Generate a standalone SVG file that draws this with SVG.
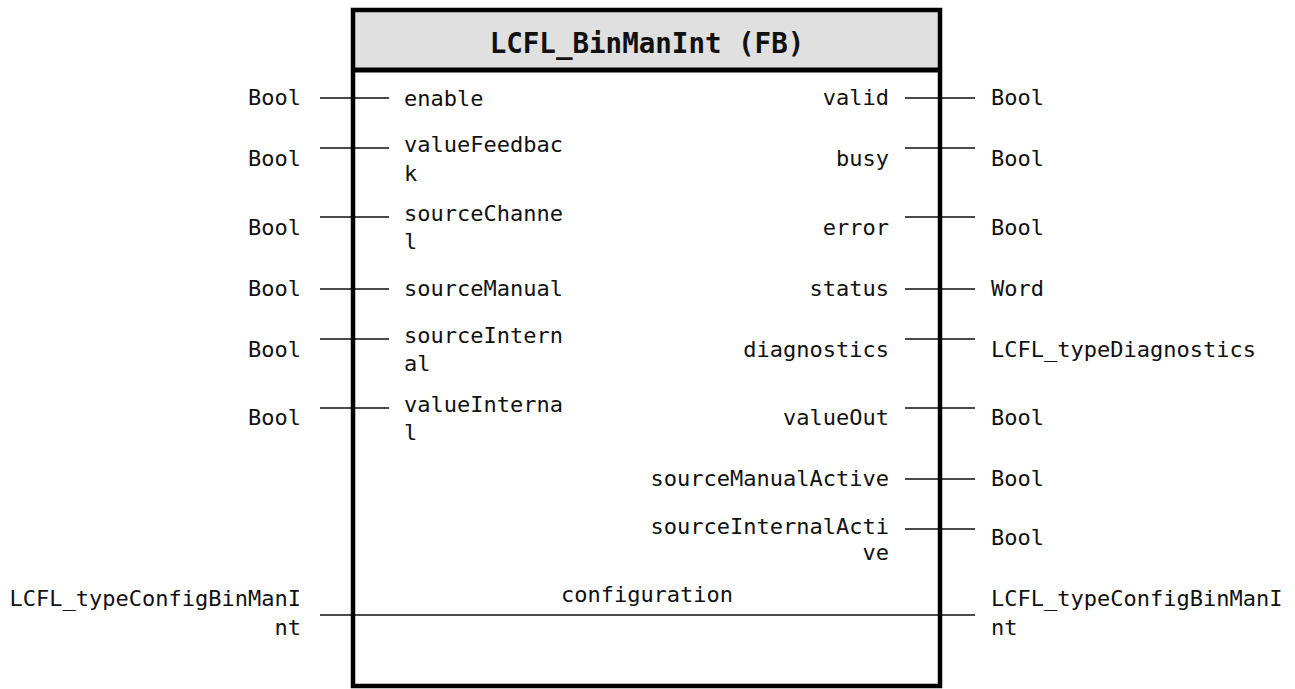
<svg xmlns="http://www.w3.org/2000/svg" width="1295" height="689" viewBox="0 0 1295 689">
<style>
text{font-family:"DejaVu Sans Mono","Liberation Mono",monospace;font-size:22px;fill:#111}
.t{font-weight:bold;font-size:27.5px;text-anchor:middle}
.e{text-anchor:end}
.m{text-anchor:middle}
.pin{stroke:#111;stroke-width:1.6;fill:none}
</style>
<rect x="0" y="0" width="1295" height="689" fill="#fff"/>
<g id="connectors">
<path class="pin" d="M320 98H389M320 148H389M320 217H389M320 289H389M320 339H389M320 408H389"/>
<path class="pin" d="M905 98H975M905 148H975M905 217H975M905 289H975M905 339H975M905 408H975M905 479H975M905 529H975"/>
<path class="pin" d="M320 615H975"/>
</g>
<g id="fb">
<rect x="353" y="10" width="587" height="60" fill="#e0e0e0"/>
<rect x="353" y="10" width="587" height="676" fill="none" stroke="#000" stroke-width="4.5"/>
<line x1="353" y1="70" x2="940" y2="70" stroke="#000" stroke-width="5"/>
<text class="t" x="647" y="53">LCFL_BinManInt (FB)</text>
</g>
<g id="inputs">
<text x="404" y="106">enable</text>
<text x="404" y="152">valueFeedbac</text><text x="404" y="181">k</text>
<text x="404" y="221">sourceChanne</text><text x="404" y="249">l</text>
<text x="404" y="296">sourceManual</text>
<text x="404" y="343">sourceIntern</text><text x="404" y="371">al</text>
<text x="404" y="412">valueInterna</text><text x="404" y="440">l</text>
<text class="e" x="301" y="105">Bool</text>
<text class="e" x="301" y="166">Bool</text>
<text class="e" x="301" y="235">Bool</text>
<text class="e" x="301" y="296">Bool</text>
<text class="e" x="301" y="357">Bool</text>
<text class="e" x="301" y="425">Bool</text>
</g>
<g id="outputs">
<text class="e" x="889" y="105">valid</text>
<text class="e" x="889" y="166">busy</text>
<text class="e" x="889" y="235">error</text>
<text class="e" x="889" y="296">status</text>
<text class="e" x="889" y="357">diagnostics</text>
<text class="e" x="889" y="425">valueOut</text>
<text class="e" x="889" y="486">sourceManualActive</text>
<text class="e" x="889" y="534">sourceInternalActi</text><text class="e" x="889" y="560">ve</text>
<text x="991" y="105">Bool</text>
<text x="991" y="166">Bool</text>
<text x="991" y="235">Bool</text>
<text x="991" y="296">Word</text>
<text x="991" y="357">LCFL_typeDiagnostics</text>
<text x="991" y="425">Bool</text>
<text x="991" y="486">Bool</text>
<text x="991" y="545">Bool</text>
</g>
<g id="inout">
<text class="m" x="647" y="602">configuration</text>
<text class="e" x="301" y="606">LCFL_typeConfigBinManI</text><text class="e" x="301" y="635">nt</text>
<text x="991" y="606">LCFL_typeConfigBinManI</text><text x="991" y="635">nt</text>
</g>
</svg>
